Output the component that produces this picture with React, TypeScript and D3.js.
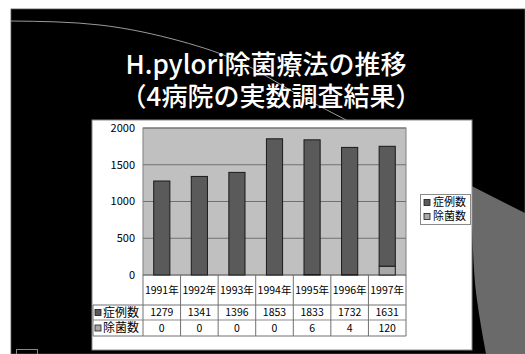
import React from 'react';
import * as d3 from 'd3';

const years = ['1991年', '1992年', '1993年', '1994年', '1995年', '1996年', '1997年'];
const cases = [1279, 1341, 1396, 1853, 1833, 1732, 1631];
const eradication = [0, 0, 0, 0, 6, 4, 120];
const seriesNames = ['症例数', '除菌数'];
const yTicks = [0, 500, 1000, 1500, 2000];
const titleLines = ['H.pylori除菌療法の推移', '（4病院の実数調査結果）'];

const FONT = '"Noto Sans CJK JP", "Noto Sans", sans-serif';
const DARK = '#5a5a5a';
const LIGHT = '#a8a8a8';

export default function App() {
  const W = 525, H = 354;
  const x = d3.scaleBand<string>().domain(years).range([143, 406]).padding(0);
  const y = d3.scaleLinear().domain([0, 2000]).range([275, 128]);
  const bw = x.bandwidth() * 0.43;

  const rows = years.map((yr, i) => ({ yr, cases: cases[i], erad: eradication[i] }));
  const stacked = d3.stack<any>().keys(['erad', 'cases'])(rows);
  const fills: Record<string, string> = { erad: LIGHT, cases: DARK };

  const arc = d3.line().curve(d3.curveNatural)([
    [11, 21], [100, 25], [180, 41], [240, 62], [290, 90], [350, 122],
  ]) as string;
  const shapeEdge = d3.line().curve(d3.curveNatural)([
    [486, 354], [477, 300], [473, 250], [471, 185],
  ]) as string;
  const shape = `M 440,170 L 525,213 L 525,354 ${shapeEdge.replace(/^M/, 'L')} Z`;

  const tableTop = 275, hdrBottom = 305, row1Bottom = 320, row2Bottom = 336;
  const tableLeft = 93, tableRight = 406;
  const rowVals = [cases, eradication];
  const rowFills = [DARK, LIGHT];
  const rowMid = [(hdrBottom + row1Bottom) / 2, (row1Bottom + row2Bottom) / 2];
  const legendY = [202.5, 216.5];

  return (
    <svg width={W} height={H} style={{ position: 'absolute', left: 0, top: 0 }} fontFamily={FONT}>
      <rect x={0} y={0} width={W} height={H} fill="#ffffff" />
      <rect x={11} y={9} width={W - 11} height={H - 9} fill="#000000" stroke="#555" strokeWidth={0.8} />
      <path d={arc} fill="none" stroke="#9a9a9a" strokeWidth={1} />
      <path d={shape} fill="#6a6a6a" />
      <rect x={16.5} y={349.5} width={21} height={6} fill="none" stroke="#888" strokeWidth={1} />

      <text textAnchor="middle" fill="#ffffff" fontSize={26} fontWeight={500}>
        <tspan x={266} y={74}>{titleLines[0]}</tspan>
        <tspan x={271} y={106}>{titleLines[1]}</tspan>
      </text>

      {/* chart panel */}
      <rect x={92} y={120} width={380} height={230} fill="#ffffff" stroke="#8a8a8a" strokeWidth={1} />

      {/* plot area */}
      <rect x={143} y={y(2000)} width={406 - 143} height={y(0) - y(2000)} fill="#c0c0c0" stroke="#808080" strokeWidth={1} />
      {yTicks.map(t => (
        <g key={t}>
          <line x1={143} x2={406} y1={y(t)} y2={y(t)} stroke="#707070" strokeWidth={1} />
          <text x={135} y={y(t)} dy="0.35em" textAnchor="end" fontSize={11} fill="#000">{t}</text>
        </g>
      ))}

      {stacked.map(s => (
        <g key={s.key}>
          {s.map((d, i) => (
            d[1] - d[0] > 0 ? (
              <rect key={i} x={(x(years[i]) as number) + (x.bandwidth() - bw) / 2}
                y={y(d[1])} width={bw} height={y(d[0]) - y(d[1])}
                fill={fills[s.key]} stroke="#1a1a1a" strokeWidth={1} />
            ) : null
          ))}
        </g>
      ))}

      {/* data table */}
      {[hdrBottom, row1Bottom, row2Bottom].map((ly, i) => (
        <line key={ly} x1={tableLeft} x2={tableRight} y1={ly} y2={ly}
          stroke={i === 1 ? '#b0b0b0' : '#707070'} strokeWidth={i === 1 ? 1.5 : 1} />
      ))}
      <line x1={tableLeft} x2={tableLeft} y1={hdrBottom} y2={row2Bottom} stroke="#707070" />
      {years.map(yr => (
        <line key={yr} x1={x(yr) as number} x2={x(yr) as number} y1={tableTop} y2={row2Bottom} stroke="#707070" />
      ))}
      <line x1={tableRight} x2={tableRight} y1={tableTop} y2={row2Bottom} stroke="#707070" />
      {years.map(yr => (
        <text key={yr} x={(x(yr) as number) + x.bandwidth() / 2} y={(tableTop + hdrBottom) / 2} dy="0.35em"
          textAnchor="middle" fontSize={10.5} fill="#000">{yr}</text>
      ))}
      {seriesNames.map((name, r) => (
        <g key={name}>
          <rect x={95} y={rowMid[r] - 3} width={6} height={6} fill={rowFills[r]} stroke="#1a1a1a" strokeWidth={0.8} />
          <text x={103} y={rowMid[r]} dy="0.35em" fontSize={12} fill="#000">{name}</text>
          {years.map((yr, i) => (
            <text key={yr} x={(x(yr) as number) + x.bandwidth() / 2} y={rowMid[r]} dy="0.35em"
              textAnchor="middle" fontSize={10.5} fill="#000">{rowVals[r][i]}</text>
          ))}
        </g>
      ))}

      {/* legend */}
      <rect x={420.5} y={194.5} width={50} height={30} fill="#ffffff" stroke="#8a8a8a" strokeWidth={1} />
      {seriesNames.map((name, r) => (
        <rect key={name} x={424} y={legendY[r] - 3} width={6} height={6} fill={rowFills[r]} stroke="#1a1a1a" strokeWidth={0.8} />
      ))}
      <text fontSize={11} fill="#000">
        {seriesNames.map((name, r) => (
          <tspan key={name} x={433} y={legendY[r]} dy="0.35em">{name}</tspan>
        ))}
      </text>
    </svg>
  );
}
